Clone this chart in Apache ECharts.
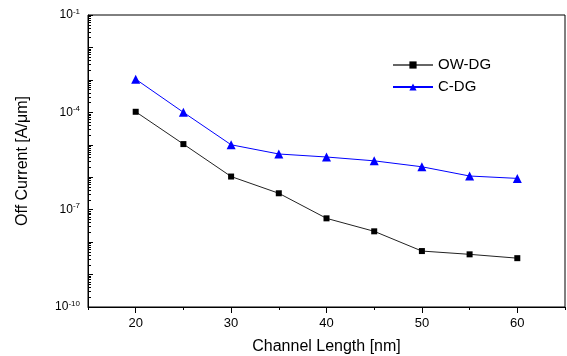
<!DOCTYPE html>
<html>
<head>
    <meta charset="UTF-8">
    <title>Off Current vs Channel Length</title>
    <script src="https://cdn.jsdelivr.net/npm/echarts@6/dist/echarts.min.js"></script>
    <style>
        body { margin: 0; background: #fff; }
    </style>
</head>
<body>
    <div id="chart" style="width:567px; height:356px;"></div>
    <script>
        // channel length [nm]
        var lengths = [20, 25, 30, 35, 40, 45, 50, 55, 60];
        // off current [A/um]
        var owdg = [1.04e-4, 1.05e-5, 1.05e-6, 3.2e-7, 5.4e-8, 2.15e-8, 5.3e-9, 4.2e-9, 3.2e-9];
        var cdg = [1.05e-3, 1.0e-4, 1.0e-5, 5.2e-6, 4.2e-6, 3.2e-6, 2.1e-6, 1.09e-6, 9.2e-7];
        var xLabels = [20, 30, 40, 50, 60];
        var yLabelExps = [-10, -7, -4, -1];

        var font = 'Liberation Sans';

        // minor log ticks (2..9 in each decade), in exponent units
        var minorTicks = [];
        for (var n = -10; n < -1; n++) {
            for (var k = 2; k <= 9; k++) minorTicks.push(n + Math.log10(k));
        }

        function pairs(ys) {
            return lengths.map(function (x, i) { return [x, ys[i]]; });
        }

        var chart = echarts.init(document.getElementById('chart'), null, {renderer: 'canvas'});

        chart.setOption({
            animation: false,
            textStyle: {fontFamily: font},
            grid: {
                left: 88, right: 2, top: 15, bottom: 49,
                outerBoundsMode: 'none',
                show: true, borderColor: '#000', borderWidth: 1
            },
            legend: {
                left: 387, top: 52,
                orient: 'vertical',
                itemWidth: 40, itemHeight: 9, itemGap: 6,
                textStyle: {fontFamily: font, fontSize: 15, lineHeight: 16, color: '#000'},
                data: [
                    {name: 'OW-DG', lineStyle: {color: '#666'}},
                    {name: 'C-DG'}
                ]
            },
            xAxis: [{
                type: 'value',
                min: 15, max: 65, interval: 5,
                name: 'Channel Length [nm]',
                nameLocation: 'middle', nameGap: 32,
                nameTextStyle: {fontFamily: font, fontSize: 16, color: '#000'},
                axisLine: {lineStyle: {color: '#000', width: 1}},
                axisTick: {length: 3, lineStyle: {color: '#000'}},
                splitLine: {show: false},
                axisLabel: {
                    fontFamily: font, fontSize: 13, color: '#000', margin: 10,
                    formatter: function (v) { return xLabels.indexOf(v) >= 0 ? String(v) : ''; }
                }
            }, {
                type: 'value',
                min: 15, max: 65,
                position: 'bottom',
                axisLine: {show: false},
                axisLabel: {show: false},
                splitLine: {show: false},
                axisTick: {length: 6, customValues: xLabels, lineStyle: {color: '#000'}}
            }],
            yAxis: [{
                type: 'log',
                logBase: 10,
                min: 1e-10, max: 1e-1, interval: 1,
                name: 'Off Current [A/\u03bcm]',
                nameLocation: 'middle', nameGap: 57,
                nameTextStyle: {fontFamily: font, fontSize: 16, color: '#000'},
                axisLine: {lineStyle: {color: '#000', width: 1}},
                axisTick: {inside: true, length: 5, lineStyle: {color: '#000'}},
                splitLine: {show: false},
                axisLabel: {
                    margin: 8,
                    formatter: function (v) {
                        var e = Math.round(Math.log10(v));
                        return yLabelExps.indexOf(e) >= 0 ? '{a|10}{b|' + e + '}' : '';
                    },
                    rich: {
                        a: {fontFamily: font, fontSize: 12, color: '#000'},
                        b: {fontFamily: font, fontSize: 8, color: '#000', padding: [0, 0, 7, 0]}
                    }
                }
            }, {
                type: 'value',
                min: -10, max: -1,
                position: 'left',
                axisLine: {show: false},
                axisLabel: {show: false},
                splitLine: {show: false},
                axisTick: {inside: true, length: 3, customValues: minorTicks, lineStyle: {color: '#000'}}
            }],
            series: [{
                name: 'OW-DG',
                type: 'line',
                data: pairs(owdg),
                symbol: 'rect', symbolSize: 6,
                itemStyle: {color: '#000'},
                lineStyle: {color: '#222', width: 1}
            }, {
                name: 'C-DG',
                type: 'line',
                data: pairs(cdg),
                symbol: 'triangle', symbolSize: 9,
                itemStyle: {color: '#0000ff'},
                lineStyle: {color: '#0000ff', width: 1}
            }]
        });
    </script>
</body>
</html>
